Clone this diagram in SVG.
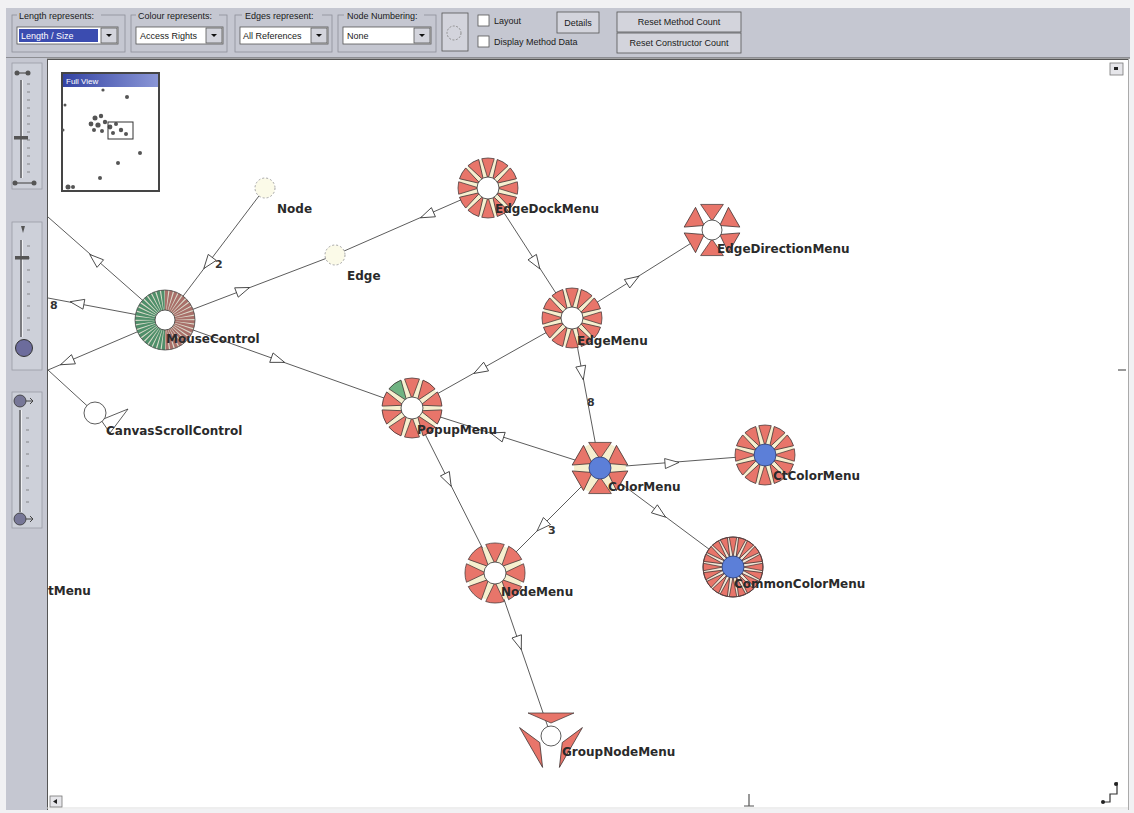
<svg xmlns="http://www.w3.org/2000/svg" xmlns:xlink="http://www.w3.org/1999/xlink" width="1134" height="813" viewBox="0 0 1134 813">
<defs>
<style>
.lbl{font-family:"DejaVu Sans",Verdana,sans-serif;font-size:12px;font-weight:bold;fill:#2a2a2a}
.num{font-family:"DejaVu Sans",sans-serif;font-size:11px;font-weight:bold;fill:#333}
.ui{font-family:"Liberation Sans",Arial,sans-serif;font-size:9px;fill:#1a1a1a}
.edge line{stroke:#4a4a4a;stroke-width:0.9;fill:none}
.w{fill:#e8756a;stroke:#3a3030;stroke-width:0.7}
.wg{fill:#6fb382}
.cream{fill:#f6efcf}
.ctr{fill:#fff;stroke:#333;stroke-width:0.8}
.blue{fill:#5c7fd8;stroke:#2a3a70;stroke-width:0.8}
.arr{fill:#fff;stroke:#333;stroke-width:0.8}
.dash{fill:#fbfae8;stroke:#9a9a9a;stroke-width:0.9;stroke-dasharray:2 2}
.panel{fill:#c5c7d1}
.sec{fill:#cdd0d9;stroke:#9a9ca6;stroke-width:0.8}
.box{fill:none;stroke:#8d8f99;stroke-width:0.8}
.combo{fill:#fff;stroke:#555;stroke-width:0.8}
.btn{fill:#d3d4dc;stroke:#555;stroke-width:0.8}
.track{stroke:#444;stroke-width:1.2;fill:none}
.tick{stroke:#666;stroke-width:0.7;fill:none}
</style>
<polygon id="arr" class="arr" points="-7,-5 7,0 -7,5"/>
<path id="w12" d="M-6.24,-29.34 A30,30 0 0 1 6.24,-29.34 L0,-9 Z"/>
<path id="w10" d="M-7.46,-29.06 A30,30 0 0 1 7.46,-29.06 L0,-9 Z"/>
<path id="w8" d="M-9.27,-28.53 A30,30 0 0 1 9.27,-28.53 L0,-9 Z"/>
<path id="w6" d="M-11.39,-25.58 L11.39,-25.58 L0,-9 Z"/>
<path id="w20" d="M-3.76,-29.76 A30,30 0 0 1 3.76,-29.76 L0,-10 Z"/>
<path id="w3" d="M-23,-23 L23,-23 L0,-13 Z"/>
<polygon id="dn" points="-3,-1.5 3,-1.5 0,1.5" fill="#111"/>
<linearGradient id="tb" x1="0" y1="0" x2="1" y2="0">
<stop offset="0" stop-color="#3444a4"/><stop offset="1" stop-color="#8a96d6"/>
</linearGradient>
</defs>

<!-- window frame -->
<rect x="0" y="0" width="1134" height="813" fill="#f1f1f3"/>
<g id="toolbar">
<rect x="6" y="8" width="1124" height="50" class="panel"/>
<line x1="6" y1="58" x2="1130" y2="58" stroke="#555" stroke-width="1"/>
<!-- group 1 -->
<rect x="12" y="15" width="113" height="37" class="box"/>
<rect x="17" y="12" width="84" height="8" class="panel"/>
<text class="ui" x="19" y="19">Length represents:</text>
<rect x="17" y="27" width="101" height="17" class="combo"/>
<rect x="19" y="29" width="79" height="13" fill="#3b4cb0"/>
<text class="ui" x="21" y="39" fill="#fff" style="fill:#fff">Length / Size</text>
<rect x="101" y="28" width="16" height="15" class="btn"/>
<use href="#dn" x="109" y="35.5"/>
<!-- group 2 -->
<rect x="131" y="15" width="96" height="37" class="box"/>
<rect x="136" y="12" width="83" height="8" class="panel"/>
<text class="ui" x="138" y="19">Colour represents:</text>
<rect x="136" y="27" width="87" height="17" class="combo"/>
<text class="ui" x="140" y="39">Access Rights</text>
<rect x="206" y="28" width="16" height="15" class="btn"/>
<use href="#dn" x="214" y="35.5"/>
<!-- group 3 -->
<rect x="235" y="15" width="97" height="37" class="box"/>
<rect x="242" y="12" width="80" height="8" class="panel"/>
<text class="ui" x="245" y="19">Edges represent:</text>
<rect x="240" y="27" width="88" height="17" class="combo"/>
<text class="ui" x="243" y="39">All References</text>
<rect x="311" y="28" width="16" height="15" class="btn"/>
<use href="#dn" x="319" y="35.5"/>
<!-- group 4 -->
<rect x="338" y="15" width="98" height="37" class="box"/>
<rect x="344" y="12" width="80" height="8" class="panel"/>
<text class="ui" x="347" y="19">Node Numbering:</text>
<rect x="343" y="27" width="88" height="17" class="combo"/>
<text class="ui" x="347" y="39">None</text>
<rect x="414" y="28" width="16" height="15" class="btn"/>
<use href="#dn" x="422" y="35.5"/>
<!-- circle button -->
<rect x="442" y="13" width="26" height="38" class="btn"/>
<circle cx="454" cy="33" r="7" fill="none" stroke="#888" stroke-width="0.9" stroke-dasharray="2 1.5"/>
<!-- checkboxes -->
<rect x="478" y="15" width="11" height="11" class="combo"/>
<text class="ui" x="494" y="24">Layout</text>
<rect x="478" y="36" width="11" height="11" class="combo"/>
<text class="ui" x="494" y="45">Display Method Data</text>
<!-- buttons -->
<rect x="557" y="12" width="42" height="21" class="btn"/>
<text class="ui" x="578" y="26" text-anchor="middle">Details</text>
<rect x="617" y="12" width="124" height="20" class="btn"/>
<text class="ui" x="679" y="25" text-anchor="middle">Reset Method Count</text>
<rect x="617" y="33" width="124" height="20" class="btn"/>
<text class="ui" x="679" y="46" text-anchor="middle">Reset Constructor Count</text>
</g>

<g id="side-panel">
<rect x="6" y="58" width="41" height="752" class="panel"/>
<!-- slider 1 -->
<rect x="12" y="63" width="30" height="126" class="sec"/>
<circle cx="17" cy="73" r="2.5" fill="#555"/><circle cx="28" cy="73" r="2.5" fill="#555"/>
<line x1="17" y1="73" x2="28" y2="73" stroke="#555" stroke-width="1.2"/>
<line x1="21" y1="80" x2="21" y2="178" class="track"/>
<line x1="22.5" y1="80" x2="22.5" y2="178" stroke="#fff" stroke-width="0.7"/>
<path class="tick" d="M27 84h3M27 92h3M27 100h3M27 108h3M27 116h3M27 124h3M27 132h3M27 140h3M27 148h3M27 156h3M27 164h3M27 172h3"/>
<rect x="14" y="136" width="14" height="3.5" fill="#555"/>
<circle cx="15" cy="183" r="2.5" fill="#555"/><circle cx="34" cy="183" r="2.5" fill="#555"/>
<line x1="15" y1="183" x2="34" y2="183" stroke="#555" stroke-width="1.2"/>
<!-- slider 2 -->
<rect x="12" y="222" width="30" height="148" class="sec"/>
<polygon points="21,226 25,226 23,233" fill="#555"/>
<line x1="21" y1="240" x2="21" y2="337" class="track"/>
<line x1="22.5" y1="240" x2="22.5" y2="337" stroke="#fff" stroke-width="0.7"/>
<path class="tick" d="M27 246h3M27 258h3M27 270h3M27 282h3M27 294h3M27 306h3M27 318h3M27 330h3"/>
<rect x="15" y="256" width="14" height="3.5" fill="#555"/>
<circle cx="24" cy="348" r="8.5" fill="#6c6c9c" stroke="#333" stroke-width="1"/>
<!-- slider 3 -->
<rect x="12" y="392" width="30" height="136" class="sec"/>
<circle cx="20" cy="401" r="6" fill="#777797" stroke="#333" stroke-width="0.8"/>
<path d="M26 401h7M30 398l3 3-3 3" stroke="#444" stroke-width="1" fill="none"/>
<line x1="20" y1="410" x2="20" y2="512" class="track"/>
<line x1="21.5" y1="410" x2="21.5" y2="512" stroke="#fff" stroke-width="0.7"/>
<path class="tick" d="M26 418h3M26 430h3M26 442h3M26 454h3M26 466h3M26 478h3M26 490h3M26 502h3"/>
<circle cx="20" cy="519" r="6" fill="#777797" stroke="#333" stroke-width="0.8"/>
<path d="M26 519h7M30 516l3 3-3 3" stroke="#444" stroke-width="1" fill="none"/>
</g>

<g id="canvas">
<rect x="47" y="59" width="1081" height="750" fill="#fff"/>
<line x1="47" y1="59.5" x2="1128" y2="59.5" stroke="#555" stroke-width="1"/>
<line x1="47.5" y1="59" x2="47.5" y2="810" stroke="#555" stroke-width="1"/>
<line x1="1128.5" y1="59" x2="1128.5" y2="810" stroke="#aaa" stroke-width="1"/>
<line x1="47" y1="808" x2="1128" y2="808" stroke="#ddd" stroke-width="1"/>
<!-- scroll buttons -->
<rect x="1110" y="63" width="13" height="12" fill="#e6e6ea" stroke="#777" stroke-width="0.8"/>
<rect x="1114" y="67" width="4" height="3" fill="#222"/>
<path d="M1118 370h8" stroke="#555" stroke-width="1.2"/>
<rect x="50" y="796" width="12" height="11" fill="#e6e6ea" stroke="#777" stroke-width="0.8"/>
<polygon points="53,801.5 57,799 57,804" fill="#222"/>
<path d="M749 794v12M744 806h10" stroke="#555" stroke-width="1.2" fill="none"/>
<path d="M1102 802h8v-8h7v-12" stroke="#333" stroke-width="1.2" fill="none"/>
<circle cx="1103" cy="802" r="2" fill="#222"/><circle cx="1116" cy="784" r="2" fill="#222"/>
</g>

<g id="overview">
<rect x="62" y="73" width="97" height="118" fill="#fff" stroke="#454545" stroke-width="2"/>
<rect x="63" y="74" width="95" height="13" fill="url(#tb)"/>
<text x="66" y="84" style="font-family:'Liberation Sans',Arial,sans-serif;font-size:8px;fill:#fff">Full View</text>
<g fill="#555">
<circle cx="103" cy="90" r="1.6"/><circle cx="127" cy="97" r="2"/><circle cx="65" cy="105" r="1.5"/>
<circle cx="63" cy="130" r="1.5"/><circle cx="140" cy="153" r="2"/><circle cx="118" cy="163" r="2"/>
<circle cx="100" cy="178" r="2"/><circle cx="68" cy="187" r="2.5"/><circle cx="73" cy="187" r="2"/>
<circle cx="95" cy="118" r="2.5"/><circle cx="101" cy="116" r="2.2"/><circle cx="91" cy="124" r="2.4"/>
<circle cx="98" cy="125" r="2.6"/><circle cx="105" cy="122" r="2.2"/><circle cx="110" cy="127" r="2.4"/>
<circle cx="116" cy="124" r="2"/><circle cx="121" cy="130" r="2.2"/><circle cx="102" cy="131" r="2"/>
<circle cx="94" cy="130" r="2"/><circle cx="113" cy="133" r="2"/><circle cx="126" cy="134" r="2"/>
</g>
<rect x="108" y="122" width="25" height="17" fill="none" stroke="#333" stroke-width="1"/>
</g>

<g id="connectors" class="edge">
<line x1="165" y1="320" x2="48" y2="217"/>
<line x1="165" y1="320" x2="48" y2="298"/>
<line x1="165" y1="320" x2="48" y2="370"/>
<line x1="48" y1="370" x2="95" y2="413"/>
<line x1="165" y1="320" x2="265" y2="188"/>
<line x1="165" y1="320" x2="335" y2="255"/>
<line x1="165" y1="320" x2="412" y2="408"/>
<line x1="335" y1="255" x2="488" y2="188"/>
<line x1="488" y1="188" x2="572" y2="318"/>
<line x1="572" y1="318" x2="712" y2="230"/>
<line x1="572" y1="318" x2="412" y2="408"/>
<line x1="572" y1="318" x2="600" y2="468"/>
<line x1="412" y1="408" x2="600" y2="468"/>
<line x1="412" y1="408" x2="495" y2="573"/>
<line x1="600" y1="468" x2="765" y2="455"/>
<line x1="600" y1="468" x2="733" y2="567"/>
<line x1="600" y1="468" x2="495" y2="573"/>
<line x1="495" y1="573" x2="551" y2="736"/>
<use href="#arr" transform="translate(95,259) rotate(-139)"/>
<use href="#arr" transform="translate(77,303) rotate(190.6)"/>
<use href="#arr" transform="translate(67,362) rotate(156.9)"/>
<use href="#arr" transform="translate(208,263) rotate(127.1)"/>
<use href="#arr" transform="translate(243,290) rotate(-20.9)"/>
<use href="#arr" transform="translate(278,360) rotate(19.6)"/>
<use href="#arr" transform="translate(427,215) rotate(156.4)"/>
<use href="#arr" transform="translate(536,263) rotate(57.1)"/>
<use href="#arr" transform="translate(633,280) rotate(-32.2)"/>
<use href="#arr" transform="translate(480,370) rotate(150.6)"/>
<use href="#arr" transform="translate(582,373) rotate(79.4)"/>
<use href="#arr" transform="translate(497,435) rotate(197.7)"/>
<use href="#arr" transform="translate(448,480) rotate(63.3)"/>
<use href="#arr" transform="translate(672,463) rotate(-4.5)"/>
<use href="#arr" transform="translate(660,513) rotate(36.7)"/>
<use href="#arr" transform="translate(542,526) rotate(135)"/>
<use href="#arr" transform="translate(519,643) rotate(71)"/>
<polygon class="arr" points="101,420 128,409 110,433"/>
<text class="num" x="50" y="309">8</text>
<text class="num" x="215" y="268">2</text>
<text class="num" x="587" y="406">8</text>
<text class="num" x="548" y="534">3</text>
</g>

<g id="n-MouseControl">
<g transform="translate(165,320)">
<circle r="30" fill="#dcdccc"/>
<path d="M0,20 A20,20 0 0 1 0,-20" fill="none" stroke="#4f8f6a" stroke-width="20" stroke-dasharray="2.3 0.84"/>
<path d="M0,-20 A20,20 0 0 1 0,20" fill="none" stroke="#a9706a" stroke-width="20" stroke-dasharray="2.3 0.84"/>
<circle r="30" fill="none" stroke="#4a4a4a" stroke-width="0.8"/>
<circle r="10" class="ctr"/>
</g>
<text class="lbl" x="166" y="343">MouseControl</text>
</g>

<g id="n-Node">
<circle cx="265" cy="188" r="10" class="dash"/>
<text class="lbl" x="277" y="213">Node</text>
</g>

<g id="n-Edge">
<circle cx="335" cy="255" r="10" class="dash"/>
<text class="lbl" x="347" y="280">Edge</text>
</g>

<g id="n-CanvasScrollControl">
<circle cx="95" cy="413" r="11" class="ctr"/>
<text class="lbl" x="106" y="435">CanvasScrollControl</text>
</g>

<g id="n-EdgeDockMenu">
<g transform="translate(488,188)">
<circle r="29" class="cream"/>
<g class="w">
<use href="#w12"/><use href="#w12" transform="rotate(30)"/><use href="#w12" transform="rotate(60)"/><use href="#w12" transform="rotate(90)"/>
<use href="#w12" transform="rotate(120)"/><use href="#w12" transform="rotate(150)"/><use href="#w12" transform="rotate(180)"/><use href="#w12" transform="rotate(210)"/>
<use href="#w12" transform="rotate(240)"/><use href="#w12" transform="rotate(270)"/><use href="#w12" transform="rotate(300)"/><use href="#w12" transform="rotate(330)"/>
</g>
<circle r="11" class="ctr"/>
</g>
<text class="lbl" x="495" y="213">EdgeDockMenu</text>
</g>

<g id="n-EdgeDirectionMenu">
<g transform="translate(712,230)">
<g class="w">
<use href="#w6"/><use href="#w6" transform="rotate(60)"/><use href="#w6" transform="rotate(120)"/>
<use href="#w6" transform="rotate(180)"/><use href="#w6" transform="rotate(240)"/><use href="#w6" transform="rotate(300)"/>
</g>
<circle r="10" class="ctr"/>
</g>
<text class="lbl" x="717" y="253">EdgeDirectionMenu</text>
</g>

<g id="n-EdgeMenu">
<g transform="translate(572,318)">
<circle r="29" class="cream"/>
<g class="w">
<use href="#w12"/><use href="#w12" transform="rotate(30)"/><use href="#w12" transform="rotate(60)"/><use href="#w12" transform="rotate(90)"/>
<use href="#w12" transform="rotate(120)"/><use href="#w12" transform="rotate(150)"/><use href="#w12" transform="rotate(180)"/><use href="#w12" transform="rotate(210)"/>
<use href="#w12" transform="rotate(240)"/><use href="#w12" transform="rotate(270)"/><use href="#w12" transform="rotate(300)"/><use href="#w12" transform="rotate(330)"/>
</g>
<circle r="11" class="ctr"/>
</g>
<text class="lbl" x="577" y="345">EdgeMenu</text>
</g>

<g id="n-PopupMenu">
<g transform="translate(412,408)">
<circle r="29" class="cream"/>
<g class="w">
<use href="#w10"/><use href="#w10" transform="rotate(36)"/><use href="#w10" transform="rotate(72)"/><use href="#w10" transform="rotate(108)"/>
<use href="#w10" transform="rotate(144)"/><use href="#w10" transform="rotate(180)"/><use href="#w10" transform="rotate(216)"/><use href="#w10" transform="rotate(252)"/>
<use href="#w10" transform="rotate(288)"/><use href="#w10" class="wg" transform="rotate(324)"/>
</g>
<circle r="11" class="ctr"/>
</g>
<text class="lbl" x="417" y="434">PopupMenu</text>
</g>

<g id="n-ColorMenu">
<g transform="translate(600,468)">
<circle r="26" class="cream"/>
<g class="w">
<use href="#w6"/><use href="#w6" transform="rotate(60)"/><use href="#w6" transform="rotate(120)"/>
<use href="#w6" transform="rotate(180)"/><use href="#w6" transform="rotate(240)"/><use href="#w6" transform="rotate(300)"/>
</g>
<circle r="11" class="blue"/>
</g>
<text class="lbl" x="608" y="491">ColorMenu</text>
</g>

<g id="n-CtColorMenu">
<g transform="translate(765,455)">
<circle r="29" class="cream"/>
<g class="w">
<use href="#w12"/><use href="#w12" transform="rotate(30)"/><use href="#w12" transform="rotate(60)"/><use href="#w12" transform="rotate(90)"/>
<use href="#w12" transform="rotate(120)"/><use href="#w12" transform="rotate(150)"/><use href="#w12" transform="rotate(180)"/><use href="#w12" transform="rotate(210)"/>
<use href="#w12" transform="rotate(240)"/><use href="#w12" transform="rotate(270)"/><use href="#w12" transform="rotate(300)"/><use href="#w12" transform="rotate(330)"/>
</g>
<circle r="11" class="blue"/>
</g>
<text class="lbl" x="773" y="480">CtColorMenu</text>
</g>

<g id="n-CommonColorMenu">
<g transform="translate(733,567)">
<circle r="30" fill="#f3e6d6"/>
<g class="w">
<use href="#w20"/><use href="#w20" transform="rotate(18)"/><use href="#w20" transform="rotate(36)"/><use href="#w20" transform="rotate(54)"/>
<use href="#w20" transform="rotate(72)"/><use href="#w20" transform="rotate(90)"/><use href="#w20" transform="rotate(108)"/><use href="#w20" transform="rotate(126)"/>
<use href="#w20" transform="rotate(144)"/><use href="#w20" transform="rotate(162)"/><use href="#w20" transform="rotate(180)"/><use href="#w20" transform="rotate(198)"/>
<use href="#w20" transform="rotate(216)"/><use href="#w20" transform="rotate(234)"/><use href="#w20" transform="rotate(252)"/><use href="#w20" transform="rotate(270)"/>
<use href="#w20" transform="rotate(288)"/><use href="#w20" transform="rotate(306)"/><use href="#w20" transform="rotate(324)"/><use href="#w20" transform="rotate(342)"/>
</g>
<circle r="30" fill="none" stroke="#5a4040" stroke-width="1"/>
<circle r="11" class="blue"/>
</g>
<text class="lbl" x="734" y="588">CommonColorMenu</text>
</g>

<g id="n-NodeMenu">
<g transform="translate(495,573)">
<circle r="28" class="cream"/>
<g class="w">
<use href="#w8"/><use href="#w8" transform="rotate(45)"/><use href="#w8" transform="rotate(90)"/><use href="#w8" transform="rotate(135)"/>
<use href="#w8" transform="rotate(180)"/><use href="#w8" transform="rotate(225)"/><use href="#w8" transform="rotate(270)"/><use href="#w8" transform="rotate(315)"/>
</g>
<circle r="11" class="ctr"/>
</g>
<text class="lbl" x="501" y="596">NodeMenu</text>
</g>

<g id="n-GroupNodeMenu">
<g transform="translate(551,736)">
<g class="w">
<use href="#w3"/><use href="#w3" transform="rotate(120)"/><use href="#w3" transform="rotate(240)"/>
</g>
<circle r="10" class="ctr"/>
</g>
<text class="lbl" x="562" y="756">GroupNodeMenu</text>
</g>

<g id="n-offscreen-label">
<text class="lbl" x="48" y="595">tMenu</text>
</g>
</svg>
